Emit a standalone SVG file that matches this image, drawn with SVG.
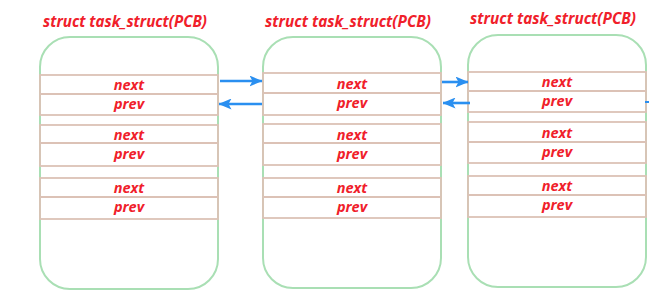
<svg xmlns="http://www.w3.org/2000/svg" width="649" height="297" viewBox="0 0 649 297">
<defs>
<style>
.box{fill:#fff;stroke:#a9dfb4;stroke-width:2}
.row{fill:none;stroke:#dcc2b6;stroke-width:1.8}
.t{font-family:"Open Sans","Noto Sans",sans-serif;font-weight:bold;font-style:italic;fill:#f0202a}
.title{font-size:16.5px}
.lbl{font-size:14.5px;text-anchor:middle}
.arr{stroke:#2a8ff0;stroke-width:2.6;fill:none;marker-end:url(#ah)}
</style>
<marker id="ah" viewBox="0 0 13 11" refX="12.5" refY="5.5" markerWidth="13" markerHeight="11" markerUnits="userSpaceOnUse" orient="auto">
<path d="M0,0 L13,5.5 L0,11 L3,5.5 Z" fill="#2a8ff0"/>
</marker>
</defs>

<g id="node1">
<text class="t title" x="43" y="27" textLength="164" lengthAdjust="spacingAndGlyphs">struct task_struct(PCB)</text>
<rect class="box" x="40" y="37" width="178" height="252" rx="30" ry="30"/>
<rect class="row" x="40" y="75" width="178" height="40"/><line class="row" x1="40" y1="94" x2="218" y2="94"/>
<rect class="row" x="40" y="125" width="178" height="41"/><line class="row" x1="40" y1="143" x2="218" y2="143"/>
<rect class="row" x="40" y="178" width="178" height="41"/><line class="row" x1="40" y1="197" x2="218" y2="197"/>
<text class="t lbl" x="129" y="89.5">next</text><text class="t lbl" x="129" y="108.5">prev</text>
<text class="t lbl" x="129" y="139.5">next</text><text class="t lbl" x="129" y="158.5">prev</text>
<text class="t lbl" x="129" y="192.5">next</text><text class="t lbl" x="129" y="211.5">prev</text>
</g>

<g id="node2">
<text class="t title" x="265" y="27" textLength="166" lengthAdjust="spacingAndGlyphs">struct task_struct(PCB)</text>
<rect class="box" x="263" y="37" width="178" height="251" rx="30" ry="30"/>
<rect class="row" x="263" y="73" width="178" height="42"/><line class="row" x1="263" y1="93" x2="441" y2="93"/>
<rect class="row" x="263" y="124" width="178" height="41"/><line class="row" x1="263" y1="143" x2="441" y2="143"/>
<rect class="row" x="263" y="178" width="178" height="40"/><line class="row" x1="263" y1="197" x2="441" y2="197"/>
<text class="t lbl" x="352" y="88.5">next</text><text class="t lbl" x="352" y="107.5">prev</text>
<text class="t lbl" x="352" y="139.5">next</text><text class="t lbl" x="352" y="158.5">prev</text>
<text class="t lbl" x="352" y="192.5">next</text><text class="t lbl" x="352" y="211.5">prev</text>
</g>

<g id="node3">
<text class="t title" x="470" y="24" textLength="166" lengthAdjust="spacingAndGlyphs">struct task_struct(PCB)</text>
<rect class="box" x="468" y="35" width="178" height="252" rx="30" ry="30"/>
<rect class="row" x="468" y="72" width="178" height="40"/><line class="row" x1="468" y1="91" x2="646" y2="91"/>
<rect class="row" x="468" y="122" width="178" height="41"/><line class="row" x1="468" y1="142" x2="646" y2="142"/>
<rect class="row" x="468" y="176" width="178" height="41"/><line class="row" x1="468" y1="195" x2="646" y2="195"/>
<text class="t lbl" x="557" y="86.5">next</text><text class="t lbl" x="557" y="105.5">prev</text>
<text class="t lbl" x="557" y="137.5">next</text><text class="t lbl" x="557" y="156.5">prev</text>
<text class="t lbl" x="557" y="190.5">next</text><text class="t lbl" x="557" y="209.5">prev</text>
</g>

<g id="connectors">
<line class="arr" x1="220" y1="81" x2="262" y2="81"/>
<line class="arr" x1="262" y1="104" x2="219" y2="104"/>
<line class="arr" x1="442" y1="82" x2="468" y2="82"/>
<line class="arr" x1="470" y1="103" x2="443" y2="103"/>
<line x1="645" y1="102" x2="649" y2="102" stroke="#2a8ff0" stroke-width="2"/>
</g>
</svg>
